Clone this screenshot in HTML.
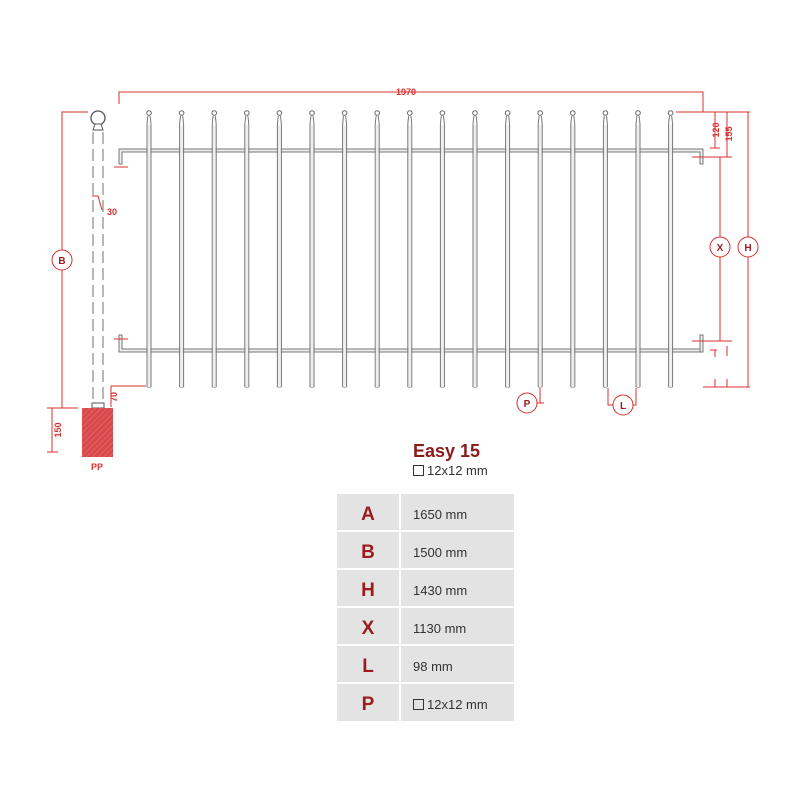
<!DOCTYPE html>
<html><head><meta charset="utf-8"><style>
body{margin:0;background:#fff;width:800px;height:800px;overflow:hidden;font-family:"Liberation Sans",sans-serif}
svg{position:absolute;left:0;top:0}
.t{position:absolute;left:337px;top:494px;border-collapse:separate;border-spacing:2px;}
</style></head><body>
<svg width="800" height="800" viewBox="0 0 800 800">
<defs>
<pattern id="h" width="4" height="4" patternUnits="userSpaceOnUse" patternTransform="rotate(45)">
<rect width="4" height="4" fill="#d9484a"/><line x1="0" y1="0" x2="0" y2="4" stroke="#e8807f" stroke-width="1"/>
</pattern>
<g id="pk">
<path d="M-2 387 L-2 125 Q-1.5 118 -1 116 M2 387 L2 125 Q1.5 118 1 116 M-2 387 L2 387" fill="none" stroke="#777" stroke-width="1"/>
<rect x="-1.3" y="125" width="2.6" height="262" fill="#eee"/>
<circle cx="0" cy="113" r="2.3" fill="#fff" stroke="#666" stroke-width="1"/>
</g>
</defs>
<!-- rails -->
<path d="M122 164 L119 164 L119 149 L703 149 L703 164 L700 164 L700 152 L122 152 Z" fill="#eee" stroke="#777" stroke-width="1"/>
<path d="M122 335 L119 335 L119 352 L703 352 L703 349 L122 349 Z" fill="#eee" stroke="#777" stroke-width="1"/>
<path d="M700 335 L703 335 L703 352 L700 352 Z" fill="#eee" stroke="#777" stroke-width="1"/>
<g>
<use href="#pk" x="149"/><use href="#pk" x="181.6"/><use href="#pk" x="214.2"/><use href="#pk" x="246.8"/><use href="#pk" x="279.4"/><use href="#pk" x="312"/><use href="#pk" x="344.6"/><use href="#pk" x="377.2"/><use href="#pk" x="409.8"/><use href="#pk" x="442.4"/><use href="#pk" x="475"/><use href="#pk" x="507.6"/><use href="#pk" x="540.2"/><use href="#pk" x="572.8"/><use href="#pk" x="605.4"/><use href="#pk" x="638"/><use href="#pk" x="670.6"/>
</g>
<!-- post -->
<circle cx="98" cy="118" r="7" fill="#fff" stroke="#555" stroke-width="1.3"/>
<path d="M93 130 L95 124 L101 124 L103 130 Z" fill="#fff" stroke="#555" stroke-width="1"/>
<g stroke="#888" stroke-width="1.2" stroke-dasharray="12 5">
<line x1="93" y1="132" x2="93" y2="404"/><line x1="103" y1="132" x2="103" y2="404"/>
</g>
<rect x="92" y="403" width="12" height="5" fill="#fff" stroke="#555"/>
<rect x="82" y="408" width="31" height="49" fill="url(#h)"/>
<g fill="none" stroke="#d9302f" stroke-width="1">
<path d="M119 104 V92 H703 V112"/>
<path d="M88 112 H62 V250 M62 270 V408 M55 408 H78"/>
<path d="M52 408 V452 M47 452 H58 M47 408 H60"/>
<path d="M111 407 V386 H146"/>
<path d="M92 196 H98 L102 210"/>
<path d="M114 167 H128 M114 339 H128"/>
<path d="M676 112 H750 M715 112 V148 M710 148 H720 M727 112 V157 M692 157 H732 M720 157 V237 M720 257 V341 M692 341 H732 M748 112 V237 M748 257 V387 M703 387 H750 M715 350 V357 M710 350 H717 M727 346 V356 M715 379 V387 M727 379 V387"/>
<path d="M540 388 V403 H537 M544 403 H540 M608 388 V405 H613 M633 405 H636 V388"/>
<circle cx="62" cy="260" r="10"/>
<circle cx="720" cy="247" r="10"/>
<circle cx="748" cy="247" r="10"/>
<circle cx="527" cy="403" r="10"/>
<circle cx="623" cy="405" r="10"/>
</g>
<g fill="#9b1b1e" font-family="Liberation Sans" font-weight="bold" text-anchor="middle">
<text x="62" y="264" font-size="10">B</text>
<text x="720" y="251" font-size="10">X</text>
<text x="748" y="251" font-size="10">H</text>
<text x="527" y="407" font-size="10">P</text>
<text x="623" y="409" font-size="10">L</text>
</g>
<g fill="#d9302f" font-family="Liberation Sans" font-weight="bold" font-size="9" text-anchor="middle">
<text x="406" y="95">1970</text>
<text x="112" y="215">30</text>
<text x="97" y="470">PP</text>
<text transform="translate(61,430) rotate(-90)">150</text>
<text transform="translate(117,397) rotate(-90)">70</text>
<text transform="translate(719,130) rotate(-90)">120</text>
<text transform="translate(732,134) rotate(-90)">155</text>
</g>
<text x="413" y="457" font-family="Liberation Sans" font-weight="bold" font-size="18" fill="#8b1a1a">Easy 15</text>
<rect x="413.5" y="465.5" width="10" height="10" fill="none" stroke="#333"/>
<text x="427" y="475" font-family="Liberation Sans" font-size="13" fill="#333">12x12 mm</text>
<g font-family="Liberation Sans">
<g fill="#e3e3e3">
<rect x="337" y="494" width="62" height="36"/><rect x="401" y="494" width="113" height="36"/>
<rect x="337" y="532" width="62" height="36"/><rect x="401" y="532" width="113" height="36"/>
<rect x="337" y="570" width="62" height="36"/><rect x="401" y="570" width="113" height="36"/>
<rect x="337" y="608" width="62" height="36"/><rect x="401" y="608" width="113" height="36"/>
<rect x="337" y="646" width="62" height="36"/><rect x="401" y="646" width="113" height="36"/>
<rect x="337" y="684" width="62" height="37"/><rect x="401" y="684" width="113" height="37"/>
</g>
<g fill="#9b1b1e" font-weight="bold" font-size="19" text-anchor="middle">
<text x="368" y="520">A</text><text x="368" y="558">B</text><text x="368" y="596">H</text>
<text x="368" y="634">X</text><text x="368" y="672">L</text><text x="368" y="710">P</text>
</g>
<g fill="#333" font-size="13">
<text x="413" y="519">1650 mm</text><text x="413" y="557">1500 mm</text><text x="413" y="595">1430 mm</text>
<text x="413" y="633">1130 mm</text><text x="413" y="671">98 mm</text><text x="427" y="709">12x12 mm</text>
</g>
<rect x="413.5" y="699.5" width="10" height="10" fill="none" stroke="#333"/>
</g>
</svg>
</body></html>
